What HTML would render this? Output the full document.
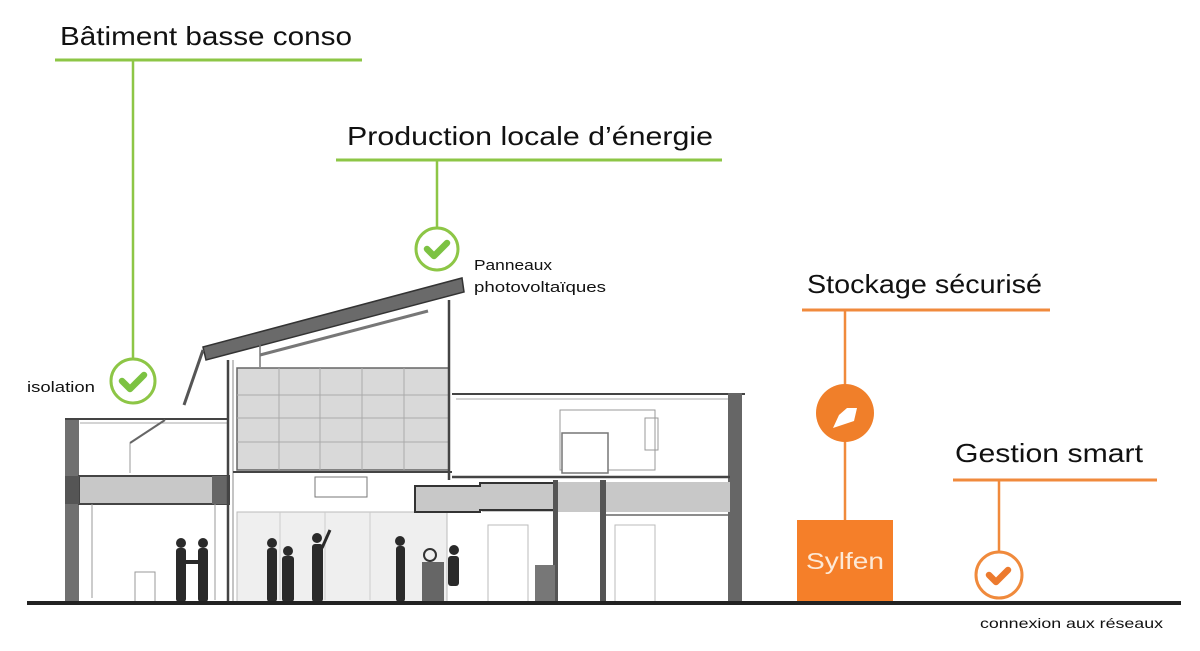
<!DOCTYPE html>
<html><head><meta charset="utf-8"><style>
html,body{margin:0;padding:0;background:#fff;}
svg{display:block;}
text{font-family:"Liberation Sans",sans-serif;fill:#111;}
</style></head><body>
<svg width="1200" height="651" viewBox="0 0 1200 651" xmlns="http://www.w3.org/2000/svg">
<!-- Green callouts -->
<text x="60" y="45" font-size="26" textLength="292" lengthAdjust="spacingAndGlyphs">Bâtiment basse conso</text>
<line x1="55" y1="60" x2="362" y2="60" stroke="#8dc646" stroke-width="3"/>
<line x1="133" y1="60" x2="133" y2="359" stroke="#8dc646" stroke-width="2.5"/>
<circle cx="133" cy="381" r="22" fill="#fff" stroke="#8dc646" stroke-width="3"/>
<path d="M122 381 l8 8 l14 -14" fill="none" stroke="#7cc242" stroke-width="6.5" stroke-linecap="round" stroke-linejoin="round"/>
<text x="27" y="392" font-size="15" textLength="68" lengthAdjust="spacingAndGlyphs">isolation</text>

<text x="347" y="145" font-size="26" textLength="366" lengthAdjust="spacingAndGlyphs">Production locale d’énergie</text>
<line x1="336" y1="160" x2="722" y2="160" stroke="#8dc646" stroke-width="3"/>
<line x1="437" y1="160" x2="437" y2="227" stroke="#8dc646" stroke-width="2.5"/>
<circle cx="437" cy="249" r="21" fill="#fff" stroke="#8dc646" stroke-width="3"/>
<path d="M427 249 l7 7 l13 -13" fill="none" stroke="#7cc242" stroke-width="6.5" stroke-linecap="round" stroke-linejoin="round"/>
<text x="474" y="270" font-size="15" textLength="78" lengthAdjust="spacingAndGlyphs">Panneaux</text>
<text x="474" y="292" font-size="15" textLength="132" lengthAdjust="spacingAndGlyphs">photovoltaïques</text>

<!-- Orange callouts -->
<text x="807" y="293" font-size="26" textLength="235" lengthAdjust="spacingAndGlyphs">Stockage sécurisé</text>
<line x1="802" y1="310" x2="1050" y2="310" stroke="#f08a3c" stroke-width="3"/>
<line x1="845" y1="310" x2="845" y2="521" stroke="#f08a3c" stroke-width="2.5"/>
<circle cx="845" cy="413" r="29" fill="#f07f2a"/>
<path d="M833 428 l6 -13 l8 -7 l10 0 l-3 13 z" fill="#fff"/>
<rect x="797" y="520" width="96" height="82" fill="#f57f29"/>
<text x="845" y="569" font-size="23" text-anchor="middle" style="fill:#fde9d6" textLength="78" lengthAdjust="spacingAndGlyphs">Sylfen</text>

<text x="955" y="462" font-size="26" textLength="188" lengthAdjust="spacingAndGlyphs">Gestion smart</text>
<line x1="953" y1="480" x2="1157" y2="480" stroke="#f08a3c" stroke-width="3"/>
<line x1="999" y1="480" x2="999" y2="553" stroke="#f08a3c" stroke-width="2.5"/>
<circle cx="999" cy="575" r="23" fill="#fff" stroke="#f08a3c" stroke-width="3"/>
<path d="M989 575 l7 7 l12 -12" fill="none" stroke="#ec7a2e" stroke-width="6.5" stroke-linecap="round" stroke-linejoin="round"/>
<text x="980" y="628" font-size="14" textLength="183" lengthAdjust="spacingAndGlyphs">connexion aux réseaux</text>

<!-- Building -->
<g stroke="#444" fill="none">
  <!-- left block -->
  <rect x="65" y="418" width="14" height="185" fill="#707070" stroke="none"/>
  <line x1="65" y1="419" x2="228" y2="419" stroke-width="2"/>
  <line x1="80" y1="423" x2="228" y2="423" stroke="#aaa" stroke-width="1"/>
  <line x1="130" y1="443" x2="165" y2="420" stroke="#666" stroke-width="2"/>
  <line x1="130" y1="443" x2="130" y2="473" stroke="#999" stroke-width="1"/>
  <rect x="79" y="476" width="150" height="28" fill="#c8c8c8" stroke="#444" stroke-width="2"/>
  <rect x="65" y="476" width="14" height="28" fill="#555" stroke="none"/>
  <rect x="212" y="476" width="16" height="28" fill="#666" stroke="none"/>
  <line x1="92" y1="504" x2="92" y2="598" stroke="#999" stroke-width="1"/>
  <line x1="215" y1="504" x2="215" y2="600" stroke="#999" stroke-width="1"/>
  <rect x="135" y="572" width="20" height="30" stroke="#999" stroke-width="1"/>
  <!-- central tall -->
  <line x1="228" y1="360" x2="228" y2="602" stroke-width="2.5"/>
  <line x1="233" y1="360" x2="233" y2="602" stroke="#888" stroke-width="1"/>
  <rect x="237" y="368" width="212" height="102" fill="#d9d9d9" stroke="#666" stroke-width="1.5"/>
  <g stroke="#aaa" stroke-width="1">
    <line x1="279" y1="368" x2="279" y2="470"/><line x1="320" y1="368" x2="320" y2="470"/>
    <line x1="362" y1="368" x2="362" y2="470"/><line x1="404" y1="368" x2="404" y2="470"/>
    <line x1="237" y1="395" x2="449" y2="395"/><line x1="237" y1="418" x2="449" y2="418"/><line x1="237" y1="442" x2="449" y2="442"/>
  </g>
  <line x1="449" y1="300" x2="449" y2="480" stroke-width="2.5"/>
  <line x1="233" y1="472" x2="452" y2="472" stroke-width="2"/>
  <rect x="315" y="477" width="52" height="20" fill="#fff" stroke="#777" stroke-width="1"/>
  <rect x="237" y="512" width="210" height="90" fill="#efefef" stroke="#bbb" stroke-width="1"/>
  <g stroke="#ccc" stroke-width="1"><line x1="280" y1="512" x2="280" y2="600"/><line x1="325" y1="512" x2="325" y2="600"/><line x1="370" y1="512" x2="370" y2="600"/></g>
  <!-- roof -->
  <polygon points="203,347 462,278 464,292 206,360" fill="#6a6a6a" stroke="#333" stroke-width="1.5"/>
  <line x1="260" y1="355" x2="428" y2="311" stroke="#777" stroke-width="3"/>
  <line x1="203" y1="350" x2="184" y2="405" stroke="#555" stroke-width="3"/>
  <line x1="260" y1="345" x2="260" y2="367" stroke="#777" stroke-width="1.5"/>
  <!-- right block -->
  <line x1="452" y1="394" x2="745" y2="394" stroke-width="2"/>
  <line x1="456" y1="399" x2="730" y2="399" stroke="#aaa" stroke-width="1"/>
  <rect x="728" y="393" width="14" height="210" fill="#666" stroke="none"/>
  <rect x="560" y="410" width="95" height="60" stroke="#999" stroke-width="1"/>
  <rect x="562" y="433" width="46" height="40" fill="#fff" stroke="#777" stroke-width="1.5"/>
  <rect x="645" y="418" width="13" height="32" stroke="#999" stroke-width="1"/>
  <line x1="452" y1="477" x2="730" y2="477" stroke-width="2.5"/>
  <rect x="482" y="482" width="248" height="30" fill="#c8c8c8" stroke="none"/>
  <polygon points="415,486 480,486 480,483 555,483 555,510 480,510 480,512 415,512" fill="#c8c8c8" stroke="#333" stroke-width="2"/>
  <rect x="553" y="480" width="5" height="122" fill="#555" stroke="none"/>
  <rect x="600" y="480" width="6" height="122" fill="#555" stroke="none"/>
  <rect x="535" y="565" width="20" height="37" fill="#777" stroke="none"/>
  <rect x="488" y="525" width="40" height="77" stroke="#bbb" stroke-width="1"/>
  <rect x="615" y="525" width="40" height="77" stroke="#bbb" stroke-width="1"/>
  <line x1="606" y1="515" x2="728" y2="515" stroke="#666" stroke-width="1.5"/>
</g>
<!-- people -->
<g fill="#2a2a2a">
  <rect x="176" y="548" width="10" height="54" rx="3"/><circle cx="181" cy="543" r="5"/>
  <rect x="198" y="548" width="10" height="54" rx="3"/><circle cx="203" cy="543" r="5"/>
  <rect x="185" y="560" width="14" height="4"/>
  <rect x="267" y="548" width="10" height="54" rx="3"/><circle cx="272" cy="543" r="5"/>
  <rect x="282" y="556" width="12" height="46" rx="3"/><circle cx="288" cy="551" r="5"/>
  <rect x="312" y="544" width="11" height="58" rx="3"/><circle cx="317" cy="538" r="5"/>
  <line x1="322" y1="548" x2="330" y2="530" stroke="#2a2a2a" stroke-width="3"/>
  <rect x="396" y="546" width="9" height="56" rx="3"/><circle cx="400" cy="541" r="5"/>
  <rect x="422" y="562" width="22" height="40" fill="#666"/>
  <circle cx="430" cy="555" r="6" fill="none" stroke="#333" stroke-width="2"/>
  <rect x="448" y="556" width="11" height="30" rx="3"/><circle cx="454" cy="550" r="5"/>
</g>
<!-- ground -->
<rect x="27" y="601" width="1154" height="4" fill="#222"/>
</svg>
</body></html>
